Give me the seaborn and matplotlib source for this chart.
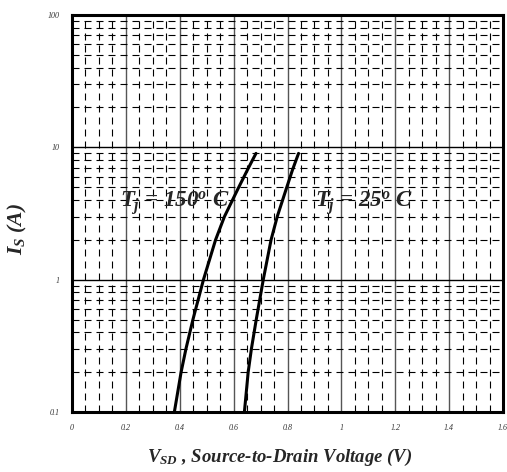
"""Source-drain diode forward characteristic, log current vs voltage."""

import matplotlib
matplotlib.use("Agg")
import matplotlib.pyplot as plt
import numpy as np
import pandas as pd
import seaborn as sns
from matplotlib.ticker import FixedLocator, NullFormatter


# values
CURRENT_A = [0.1, 0.2, 0.3, 0.5, 1.0, 2.0, 3.0, 4.9, 6.8, 9.0]
VSD_150C = [0.380, 0.405, 0.423, 0.449, 0.488, 0.533, 0.566, 0.617, 0.652, 0.683]
VSD_25C = [0.640, 0.654, 0.666, 0.684, 0.710, 0.739, 0.762, 0.796, 0.819, 0.841]

X_TICKS = [0, 0.2, 0.4, 0.6, 0.8, 1.0, 1.2, 1.4, 1.6]
X_TICK_LABELS = ["0", "0.2", "0.4", "0.6", "0.8", "1", "1.2", "1.4", "1.6"]
Y_TICKS = [0.1, 1, 10, 100]
Y_TICK_LABELS = ["0.1", "1", "10", "100"]


def build_frame() -> pd.DataFrame:
    hot = pd.DataFrame({"vsd": VSD_150C, "current": CURRENT_A, "tj": "150"})
    cold = pd.DataFrame({"vsd": VSD_25C, "current": CURRENT_A, "tj": "25"})
    return pd.concat([hot, cold], ignore_index=True)


def main() -> None:
    sns.set_theme(style="white")
    plt.rcParams.update({
        "font.family": ["Liberation Serif", "DejaVu Serif"],
        "mathtext.fontset": "custom",
        "mathtext.it": "Liberation Serif:italic:bold",
        "mathtext.rm": "Liberation Serif:italic:bold",
        "mathtext.bf": "Liberation Serif:italic:bold",
    })

    df = build_frame()

    fig = plt.figure(figsize=(5.07, 4.72), dpi=100)
    ax = fig.add_axes([72 / 507, 60 / 472, 431 / 507, 397 / 472])

    sns.lineplot(
        data=df, x="vsd", y="current", hue="tj",
        palette={"150": "black", "25": "black"},
        linewidth=2.2, legend=False, ax=ax, zorder=5,
    )

    ax.set_yscale("log")
    ax.set_xlim(0, 1.6)
    ax.set_ylim(0.1, 100)

    ax.xaxis.set_major_locator(FixedLocator(X_TICKS))
    ax.set_xticklabels(X_TICK_LABELS)
    minor_x = [v for v in np.arange(0, 1.6001, 0.05) if round(v / 0.2, 6) % 1 != 0]
    ax.xaxis.set_minor_locator(FixedLocator(minor_x))

    ax.yaxis.set_major_locator(FixedLocator(Y_TICKS))
    ax.set_yticklabels(Y_TICK_LABELS)
    minor_y = [m * d for d in (0.1, 1, 10) for m in range(2, 10)]
    ax.yaxis.set_minor_locator(FixedLocator(minor_y))
    ax.yaxis.set_minor_formatter(NullFormatter())
    ax.xaxis.set_minor_formatter(NullFormatter())

    ax.set_axisbelow(True)
    ax.grid(which="major", axis="x", color="#555555", linewidth=1.0, linestyle="-")
    ax.grid(which="major", axis="y", color="black", linewidth=1.0, linestyle="-")
    ax.grid(which="minor", axis="both", color="black", linewidth=0.8,
            linestyle=(0, (6.3, 4.5)))

    ax.tick_params(which="both", length=0)
    ax.tick_params(axis="x", pad=8.5, labelsize=5.8, labelcolor="#333333")
    ax.tick_params(axis="y", pad=9, labelsize=5.8, labelcolor="#333333")
    for lab in ax.get_xticklabels() + ax.get_yticklabels():
        lab.set_fontstyle("italic")

    for side in ax.spines.values():
        side.set_color("black")
        side.set_linewidth(2.2)

    ax.set_xlabel("")
    ax.set_ylabel("")

    text_kw = dict(fontsize=16.5, fontweight="bold", fontstyle="italic",
                   va="baseline", ha="left", zorder=6)
    ax.text(0.178, 3.5, r"$T_j$ = 150$^o$ C", **text_kw)
    ax.text(0.903, 3.5, r"$T_j$ = 25$^o$ C", **text_kw)

    fig.text(280 / 507, 15 / 472, r"$V_{SD}$ , Source-to-Drain Voltage (V)",
             fontsize=13.5, fontweight="bold", fontstyle="italic",
             ha="center", va="center")
    fig.text(17 / 507, 243 / 472, r"$I_S$ (A)", rotation=90,
             fontsize=15.5, fontweight="bold", fontstyle="italic",
             ha="center", va="center")

    fig.savefig("out.png", dpi=100)
    plt.close(fig)


if __name__ == "__main__":
    main()
